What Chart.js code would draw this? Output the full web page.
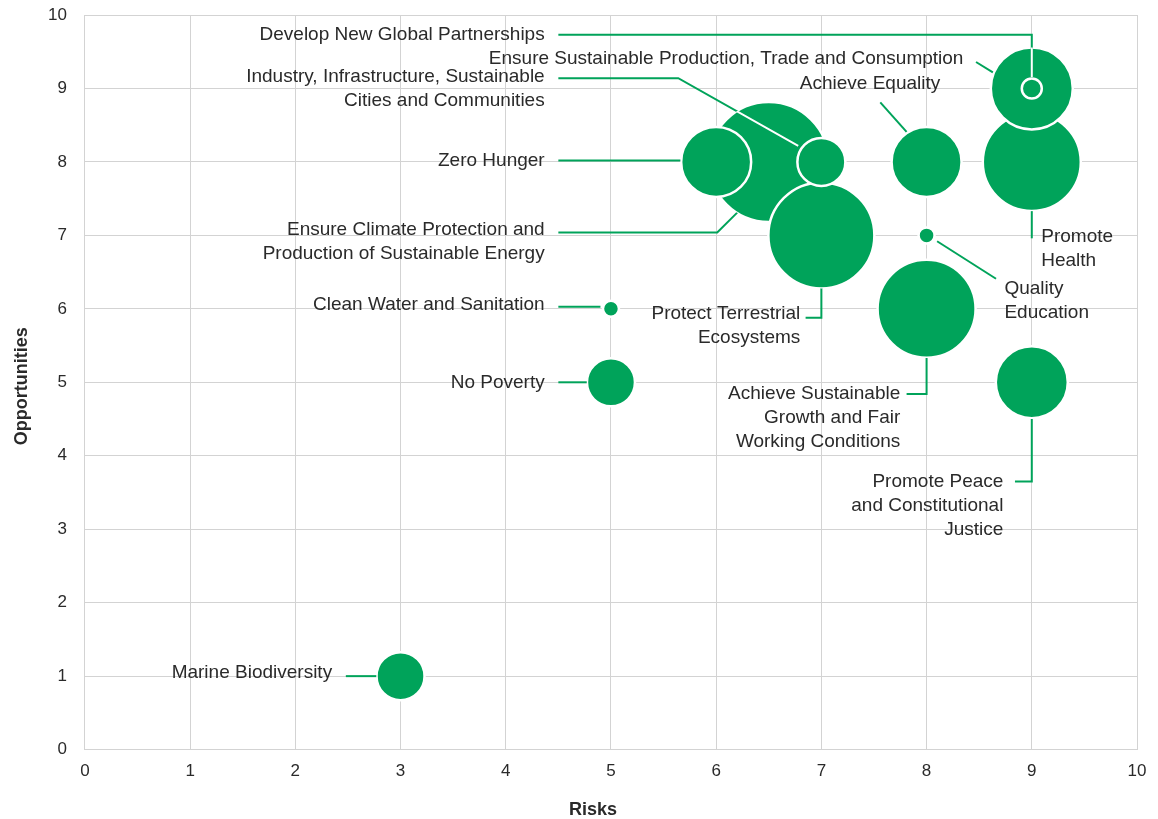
<!DOCTYPE html>
<html>
<head>
<meta charset="utf-8">
<script src="https://cdn.jsdelivr.net/npm/chart.js@4.4.1/dist/chart.umd.min.js"></script>
<style>
  html, body { margin: 0; padding: 0; background: #fff; }
  #wrap { width: 1158px; height: 819px; }
</style>
</head>
<body>
<div id="wrap"><canvas id="sdg"></canvas></div>
<script>
// Sustainable Development Goals: risk vs. opportunity, bubble size = relevance
const categories = [
  'Ensure Climate Protection and Production of Sustainable Energy',
  'Zero Hunger',
  'Protect Terrestrial Ecosystems',
  'Industry, Infrastructure, Sustainable Cities and Communities',
  'Achieve Equality',
  'Promote Health',
  'Ensure Sustainable Production, Trade and Consumption',
  'Develop New Global Partnerships',
  'Quality Education',
  'Achieve Sustainable Growth and Fair Working Conditions',
  'Promote Peace and Constitutional Justice',
  'Clean Water and Sanitation',
  'No Poverty',
  'Marine Biodiversity'
];
const risks         = [6.5, 6, 7, 7, 8, 9, 9, 9, 8, 8, 9, 5, 5, 3];
const opportunities = [8,   8, 7, 8, 8, 8, 9, 9, 7, 6, 5, 6, 5, 1];
const relevance     = [60, 35, 53, 24, 35, 49, 41, 10, 8, 49, 36, 8, 24, 24];

// Callout labels: text anchored in axis units, leader lines as value-space polylines
const callouts = [
  { lines: ['Develop New Global Partnerships'], at: [4.37, 9.73], align: 'right',
    path: [[4.5, 9.73], [9, 9.73], [9, 9.15]] },
  { lines: ['Ensure Sustainable Production, Trade and Consumption'], at: [8.35, 9.41], align: 'right',
    path: [[8.47, 9.36], [8.63, 9.22]] },
  { lines: ['Industry, Infrastructure, Sustainable', 'Cities and Communities'], at: [4.37, 9.16], align: 'right',
    path: [[4.5, 9.14], [5.64, 9.14], [6.78, 8.22]] },
  { lines: ['Achieve Equality'], at: [8.13, 9.07], align: 'right',
    path: [[7.56, 8.81], [7.81, 8.41]] },
  { lines: ['Zero Hunger'], at: [4.37, 8.02], align: 'right',
    path: [[4.5, 8.02], [5.66, 8.02]] },
  { lines: ['Ensure Climate Protection and', 'Production of Sustainable Energy'], at: [4.37, 7.07], align: 'right',
    path: [[4.5, 7.04], [6.01, 7.04], [6.2, 7.31]] },
  { lines: ['Clean Water and Sanitation'], at: [4.37, 6.05], align: 'right',
    path: [[4.5, 6.03], [4.9, 6.03]] },
  { lines: ['No Poverty'], at: [4.37, 5.0], align: 'right',
    path: [[4.5, 5.0], [4.77, 5.0]] },
  { lines: ['Marine Biodiversity'], at: [2.35, 1.05], align: 'right',
    path: [[2.48, 1.0], [2.77, 1.0]] },
  { lines: ['Protect Terrestrial', 'Ecosystems'], at: [6.8, 5.93], align: 'right',
    path: [[6.85, 5.88], [7, 5.88], [7, 6.28]] },
  { lines: ['Achieve Sustainable', 'Growth and Fair', 'Working Conditions'], at: [7.75, 4.84], align: 'right',
    path: [[7.81, 4.84], [8, 4.84], [8, 5.33]] },
  { lines: ['Promote Peace', 'and Constitutional', 'Justice'], at: [8.73, 3.65], align: 'right',
    path: [[8.84, 3.65], [9, 3.65], [9, 4.5]] },
  { lines: ['Promote', 'Health'], at: [9.09, 6.98], align: 'left',
    path: [[9, 7.33], [9, 6.96]] },
  { lines: ['Quality', 'Education'], at: [8.74, 6.27], align: 'left',
    path: [[8.1, 6.92], [8.66, 6.41]] }
];

const GREEN = '#00a35a';
const TEXT = '#2a2a2a';
const GRID = '#d3d3d3';
const FONT = '"Liberation Sans", Arial, sans-serif';
const LINE_GAP = 24;

const calloutPlugin = {
  id: 'callouts',
  afterDatasetsDraw(chart) {
    const { ctx, scales: { x, y } } = chart;
    const paths = callouts.map(c => c.path.map(([a, b]) => [x.getPixelForValue(a), y.getPixelForValue(b)]));
    const strokeAll = color => {
      ctx.strokeStyle = color;
      paths.forEach(p => {
        ctx.beginPath();
        p.forEach(([a, b], i) => (i ? ctx.lineTo(a, b) : ctx.moveTo(a, b)));
        ctx.stroke();
      });
    };
    ctx.save();
    ctx.lineWidth = 2;
    ctx.lineJoin = 'miter';
    strokeAll(GREEN);
    // leader segments crossing a bubble show up white
    const meta = chart.getDatasetMeta(0);
    ctx.save();
    ctx.beginPath();
    meta.data.forEach(el => {
      const r = el.options.radius;
      ctx.moveTo(el.x + r, el.y);
      ctx.arc(el.x, el.y, r, 0, Math.PI * 2);
    });
    ctx.clip();
    strokeAll('#ffffff');
    ctx.restore();

    ctx.fillStyle = TEXT;
    ctx.font = '19px ' + FONT;
    ctx.textBaseline = 'middle';
    callouts.forEach(c => {
      ctx.textAlign = c.align;
      const tx = x.getPixelForValue(c.at[0]);
      const ty = y.getPixelForValue(c.at[1]);
      c.lines.forEach((t, i) => ctx.fillText(t, tx, ty + i * LINE_GAP));
    });
    ctx.restore();
  },
  afterDraw(chart) {
    const { ctx, chartArea } = chart;
    ctx.save();
    ctx.fillStyle = TEXT;
    ctx.font = 'bold 18px ' + FONT;
    ctx.textAlign = 'center';
    ctx.textBaseline = 'middle';
    ctx.fillText('Risks', (chartArea.left + chartArea.right) / 2 - 18, chart.height - 9);
    ctx.translate(22, (chartArea.top + chartArea.bottom) / 2 + 4);
    ctx.rotate(-Math.PI / 2);
    ctx.fillText('Opportunities', 0, 0);
    ctx.restore();
  }
};

new Chart(document.getElementById('sdg'), {
  type: 'bubble',
  data: {
    datasets: [{
      label: 'SDG',
      data: categories.map((name, i) => ({ x: risks[i], y: opportunities[i], r: relevance[i], name })),
      backgroundColor: GREEN,
      borderColor: '#ffffff',
      borderWidth: 2.5,
      hoverRadius: 0,
      clip: false
    }]
  },
  options: {
    responsive: true,
    maintainAspectRatio: false,
    animation: false,
    events: [],
    layout: { autoPadding: false, padding: { left: 30, right: 21, top: 15, bottom: 25 } },
    plugins: { legend: { display: false }, tooltip: { enabled: false } },
    scales: {
      x: {
        type: 'linear', min: 0, max: 10,
        ticks: { stepSize: 1, padding: 12, color: TEXT, font: { family: FONT, size: 17 } },
        grid: { color: GRID, drawTicks: false, lineWidth: 1 },
        border: { color: GRID },
        afterFit(scale) { scale.paddingLeft = 0; scale.paddingRight = 0; }
      },
      y: {
        type: 'linear', min: 0, max: 10,
        ticks: { stepSize: 1, padding: 18, color: TEXT, font: { family: FONT, size: 17 } },
        grid: { color: GRID, drawTicks: false, lineWidth: 1 },
        border: { color: GRID },
        afterFit(scale) { scale.paddingTop = 0; scale.paddingBottom = 0; }
      }
    }
  },
  plugins: [calloutPlugin]
});
</script>
</body>
</html>
